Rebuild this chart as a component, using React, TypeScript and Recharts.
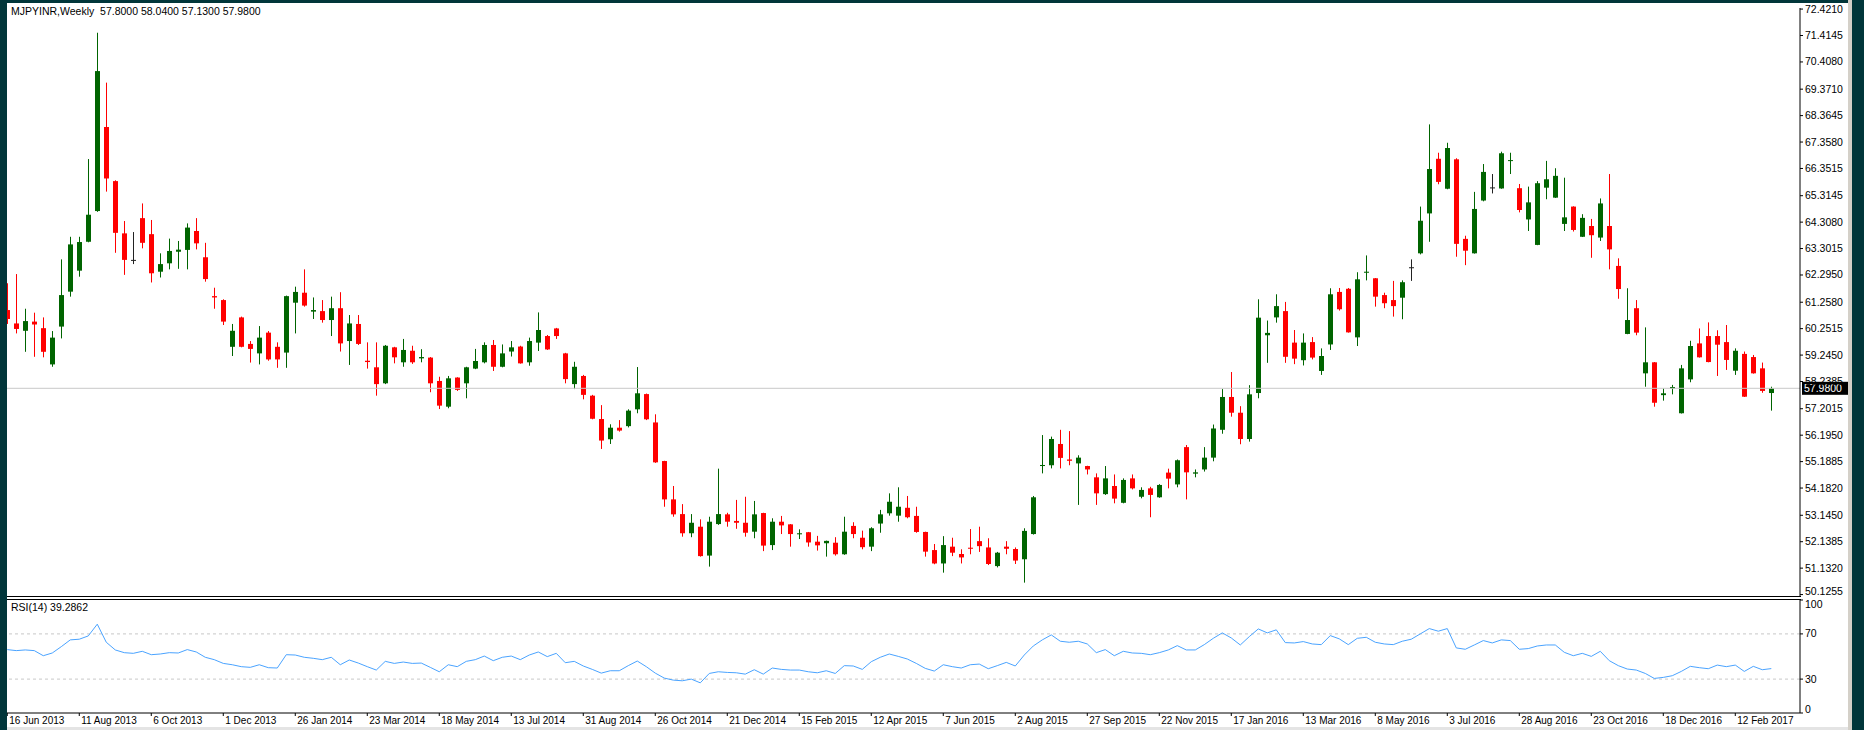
import React from "react";
import { ComposedChart, Bar, Line, XAxis, YAxis, ReferenceLine } from "recharts";

// weekly OHLC, oldest first
const opens = [
  60.96, 60.45, 60.17, 60.52, 60.27, 58.89, 60.33, 61.66, 62.46, 63.56,
  64.73, 67.93, 65.87, 63.88, 62.87, 64.46, 63.85, 62.42, 62.74, 63.18,
  63.25, 63.97, 62.97, 61.49, 61.34, 59.56, 60.68, 59.67, 59.31, 60.1,
  59.56, 59.34, 61.24, 61.62, 60.9, 60.92, 60.58, 61.03, 59.78, 60.43,
  59.03, 58.78, 58.17, 59.54, 58.97, 59.41, 59.12, 59.15, 58.26, 57.28,
  58.39, 58.17, 58.73, 58.97, 59.63, 58.8, 59.38, 59.57, 58.97, 59.72,
  59.97, 60.26, 59.31, 58.14, 58.45, 57.7, 56.81, 56.04, 56.48, 56.54,
  57.18, 57.76, 56.68, 55.21, 53.75, 53.19, 52.46, 52.71, 51.61, 52.81,
  53.18, 52.93, 52.86, 52.52, 53.23, 52.01, 52.9, 52.8, 52.42, 52.5,
  52.14, 52.08, 52.1, 51.66, 52.74, 52.29, 51.95, 52.83, 53.22, 53.13,
  53.43, 53.12, 52.51, 51.82, 51.31, 51.95, 51.67, 51.91, 52.16, 51.92,
  51.21, 51.95, 51.86, 51.47, 52.43, 55.02, 55.05, 55.86, 55.27, 55.12,
  55.02, 54.59, 53.95, 54.26, 53.62, 54.55, 53.85, 54.17, 53.83, 54.77,
  54.32, 55.74, 54.73, 54.89, 55.34, 56.4, 57.65, 57.05, 56.05, 57.8,
  60.0, 60.68, 60.92, 59.72, 59.05, 59.74, 58.64, 59.65, 61.65, 61.77,
  59.92, 62.38, 62.17, 61.53, 61.34, 61.43, 62.59, 63.12, 64.64, 66.72,
  65.58, 66.7, 63.67, 63.12, 65.13, 65.63, 65.59, 66.65, 65.6, 64.41,
  63.44, 65.62, 65.24, 64.24, 64.9, 63.75, 64.16, 63.72, 64.16, 62.64,
  60.05, 61.03, 58.55, 58.97, 57.72, 57.97, 57.03, 58.32, 59.69, 59.97,
  59.97, 59.74, 58.65, 59.29, 59.17, 58.74, 57.8,
];
const highs = [
  61.98, 62.33, 61.01, 60.86, 60.68, 60.16, 62.89, 63.75, 63.75, 66.71,
  71.52, 69.62, 65.9, 64.35, 63.93, 65.02, 64.39, 63.12, 63.68, 63.59,
  64.26, 64.46, 63.52, 61.81, 61.37, 60.43, 60.71, 59.78, 60.35, 60.16,
  59.73, 61.51, 61.85, 62.51, 61.44, 61.34, 61.47, 61.64, 60.77, 60.77,
  59.73, 59.73, 59.63, 59.56, 59.86, 59.6, 59.47, 59.17, 58.42, 58.45,
  58.4, 58.8, 59.48, 59.73, 59.82, 59.65, 59.78, 59.6, 59.91, 60.87,
  60.01, 60.28, 59.33, 58.99, 58.49, 57.73, 57.34, 56.61, 56.77, 57.18,
  58.79, 57.78, 56.99, 55.22, 54.26, 53.57, 53.19, 52.99, 53.09, 54.92,
  53.24, 53.73, 53.85, 53.69, 53.24, 53.03, 53.12, 52.81, 52.61, 52.51,
  52.36, 52.18, 52.31, 53.09, 52.88, 52.56, 52.69, 53.35, 53.98, 54.21,
  53.88, 53.47, 52.52, 52.05, 52.35, 52.29, 51.85, 52.62, 52.71, 52.27,
  51.75, 52.16, 51.92, 52.65, 53.88, 56.2, 56.14, 56.4, 56.35, 55.43,
  55.03, 54.74, 55.02, 54.7, 54.55, 54.7, 54.21, 54.23, 54.33, 54.92,
  55.27, 55.82, 54.89, 55.74, 56.6, 57.95, 58.6, 57.3, 58.1, 61.37,
  60.56, 61.56, 61.27, 60.2, 60.07, 59.93, 59.5, 61.79, 61.8, 61.8,
  62.4, 63.04, 62.18, 61.62, 62.07, 62.09, 62.89, 64.9, 68.03, 66.95,
  67.33, 66.74, 63.79, 65.46, 66.52, 66.14, 66.99, 66.95, 65.76, 65.66,
  65.87, 66.64, 66.36, 66.0, 64.91, 64.61, 64.43, 65.21, 66.14, 62.93,
  61.79, 61.34, 60.3, 58.98, 57.98, 58.11, 58.87, 59.79, 60.26, 60.49,
  60.19, 60.39, 59.5, 59.38, 59.25, 58.96, 58.04,
];
const lows = [
  60.43, 60.07, 59.37, 59.18, 59.16, 58.8, 59.88, 61.47, 62.23, 63.54,
  64.7, 65.47, 63.14, 62.3, 62.71, 63.31, 62.01, 62.2, 62.51, 62.53,
  62.51, 63.27, 62.04, 61.01, 60.39, 59.21, 59.54, 58.96, 58.89, 59.03,
  58.76, 58.76, 60.07, 61.09, 60.62, 60.48, 59.97, 59.38, 58.87, 59.63,
  58.73, 57.7, 58.14, 58.93, 58.8, 58.91, 58.97, 57.83, 57.19, 57.22,
  57.88, 57.6, 58.71, 58.93, 58.64, 58.78, 59.19, 58.92, 58.84, 59.4,
  59.44, 59.86, 58.17, 57.95, 57.56, 56.8, 55.67, 55.86, 56.33, 56.49,
  57.03, 56.77, 55.14, 53.47, 53.09, 52.33, 52.31, 51.57, 51.19, 52.78,
  52.71, 52.63, 52.33, 52.27, 51.78, 51.82, 52.43, 51.95, 52.24, 51.95,
  51.8, 51.57, 51.61, 51.64, 52.27, 51.85, 51.78, 52.48, 53.13, 52.9,
  53.03, 52.48, 51.57, 51.28, 50.96, 51.59, 51.31, 51.66, 51.75, 51.25,
  51.16, 51.66, 51.29, 50.58, 52.41, 54.74, 54.93, 54.93, 55.05, 53.54,
  54.7, 53.54, 53.92, 53.6, 53.6, 54.13, 53.79, 53.07, 53.81, 54.17,
  54.21, 53.75, 54.59, 54.81, 55.2, 56.25, 56.9, 55.85, 55.95, 57.6,
  58.95, 60.48, 58.95, 58.9, 58.85, 59.08, 58.49, 59.44, 60.94, 60.1,
  59.59, 62.09, 61.09, 61.03, 60.71, 60.61, 62.07, 63.08, 63.56, 65.75,
  65.56, 62.99, 62.67, 63.11, 65.1, 65.4, 65.58, 66.14, 64.68, 63.97,
  63.43, 65.18, 65.23, 63.97, 63.95, 63.74, 62.95, 63.59, 62.51, 61.39,
  60.04, 60.0, 58.04, 57.28, 57.51, 57.75, 57.02, 58.21, 59.15, 58.97,
  58.45, 58.68, 58.49, 57.65, 58.54, 57.81, 57.13,
];
const closes = [
  60.62, 60.24, 60.54, 60.41, 59.37, 59.91, 61.53, 63.46, 63.55, 64.59,
  70.06, 65.97, 63.9, 62.87, 62.87, 63.52, 62.36, 62.71, 63.21, 63.26,
  64.1, 63.5, 62.14, 61.44, 60.52, 60.17, 59.56, 59.48, 59.91, 59.08,
  59.08, 61.49, 61.65, 61.13, 60.96, 60.58, 61.03, 59.69, 60.45, 59.67,
  58.98, 58.14, 59.6, 59.16, 59.44, 58.97, 59.17, 58.17, 57.32, 58.36,
  57.92, 58.78, 59.02, 59.63, 58.8, 59.31, 59.54, 58.93, 59.78, 60.2,
  59.46, 59.97, 58.33, 58.8, 57.73, 56.82, 55.99, 56.48, 56.37, 57.13,
  57.79, 56.8, 55.16, 53.75, 53.18, 52.46, 52.86, 51.59, 52.9, 53.19,
  52.9, 52.86, 52.48, 53.18, 51.99, 52.9, 52.76, 52.43, 52.46, 52.11,
  52.0, 52.17, 51.66, 52.52, 52.43, 51.93, 52.65, 53.18, 53.66, 53.47,
  53.07, 52.51, 51.76, 51.31, 52.01, 51.72, 51.54, 51.87, 51.97, 51.29,
  51.72, 51.87, 51.42, 52.55, 53.83, 55.06, 56.05, 55.33, 55.22, 55.34,
  54.89, 53.98, 54.55, 53.78, 54.49, 54.17, 54.11, 53.92, 54.3, 54.54,
  55.24, 54.78, 54.78, 55.34, 56.45, 57.65, 57.05, 56.05, 57.75, 60.67,
  60.09, 61.11, 59.18, 59.11, 59.72, 59.15, 59.21, 61.56, 60.99, 60.11,
  62.13, 62.42, 61.47, 61.22, 61.11, 62.02, 62.59, 64.36, 66.33, 65.84,
  67.13, 63.48, 63.22, 64.81, 66.22, 65.63, 66.93, 66.67, 64.77, 65.06,
  65.79, 65.94, 66.07, 64.49, 64.01, 64.47, 63.81, 65.02, 63.27, 61.76,
  60.58, 60.1, 58.97, 57.43, 57.79, 58.03, 58.74, 59.59, 59.16, 58.98,
  59.64, 59.06, 59.41, 57.66, 58.55, 57.88, 57.98,
];
// RSI(14) as drawn in the lower panel
const rsiValues = [
  56.1, 55.2, 55.8, 55.2, 50.7, 53.1, 58.7, 64.7, 65.3, 68.2,
  78.6, 62.6, 55.8, 53.4, 52.8, 54.6, 51.6, 52.2, 53.4, 53.1,
  56.1, 54.0, 49.3, 47.2, 43.9, 42.7, 41.0, 40.4, 42.7, 40.1,
  39.8, 51.6, 51.3, 49.3, 48.4, 47.2, 49.3, 42.7, 46.9, 44.2,
  41.0, 38.0, 45.7, 43.9, 45.1, 43.9, 44.2, 40.4, 36.5, 42.7,
  41.0, 45.7, 47.2, 50.4, 46.3, 49.3, 50.4, 47.2, 51.3, 54.0,
  49.9, 52.8, 44.5, 45.7, 41.6, 38.6, 35.3, 37.4, 37.4, 41.9,
  46.0, 41.0, 35.3, 30.9, 29.1, 28.5, 30.0, 26.7, 35.0, 36.5,
  35.9, 35.6, 34.4, 38.3, 34.4, 39.8, 38.6, 38.0, 38.0, 36.5,
  35.6, 37.4, 35.0, 41.9, 41.6, 38.6, 45.4, 49.3, 52.2, 50.1,
  47.8, 43.9, 39.5, 37.1, 42.7, 41.0, 39.8, 42.7, 43.3, 39.2,
  41.9, 44.8, 41.6, 51.3, 59.3, 64.7, 69.1, 63.5, 62.6, 63.5,
  61.1, 53.4, 56.1, 50.7, 54.6, 53.1, 52.8, 51.6, 53.4, 55.8,
  59.6, 55.8, 55.8, 60.5, 66.1, 70.9, 66.4, 60.2, 67.6, 74.4,
  70.9, 73.6, 62.3, 62.0, 63.2, 61.1, 60.5, 68.5, 65.6, 60.5,
  66.1, 67.0, 62.6, 61.1, 60.5, 63.5, 65.3, 70.0, 74.7, 72.4,
  74.7, 57.6, 56.4, 60.2, 64.1, 62.0, 64.7, 64.1, 56.4, 57.0,
  59.3, 60.2, 60.2, 53.7, 50.7, 52.8, 50.1, 54.6, 46.3, 41.9,
  38.9, 38.0, 35.0, 30.6, 31.5, 33.0, 36.8, 41.3, 40.1, 39.2,
  42.4, 41.0, 42.4, 36.8, 41.3, 38.3, 39.3,
];

const dateTicks = [0, 8, 16, 24, 32, 40, 48, 56, 64, 72, 80, 88, 96, 104, 112, 120, 128, 136, 144, 152, 160, 168, 176, 184, 192];
const dateLabels = [
  "16 Jun 2013", "11 Aug 2013", "6 Oct 2013", "1 Dec 2013", "26 Jan 2014",
  "23 Mar 2014", "18 May 2014", "13 Jul 2014", "31 Aug 2014", "26 Oct 2014",
  "21 Dec 2014", "15 Feb 2015", "12 Apr 2015", "7 Jun 2015", "2 Aug 2015",
  "27 Sep 2015", "22 Nov 2015", "17 Jan 2016", "13 Mar 2016", "8 May 2016",
  "3 Jul 2016", "28 Aug 2016", "23 Oct 2016", "18 Dec 2016", "12 Feb 2017",
];
const priceTicks = [
  72.421, 71.4145, 70.408, 69.371, 68.3645, 67.358, 66.3515, 65.3145,
  64.308, 63.3015, 62.295, 61.258, 60.2515, 59.245, 58.2385, 57.2015,
  56.195, 55.1885, 54.182, 53.145, 52.1385, 51.132, 50.1255,
];
const rsiTicks = [0, 30, 70, 100];
const lastPrice = 57.98;

const FONT = "Tahoma, 'Liberation Sans', Arial, sans-serif";
const DARK = "#01363a";
const UP = "#006400";
const DOWN = "#ff0000";
const DOJI = "#222222";
const X_DOMAIN: [number, number] = [-0.03, 199.19];

const candles = opens.map((o, i) => ({
  i,
  open: o,
  high: highs[i],
  low: lows[i],
  close: closes[i],
  range: [lows[i], highs[i]],
  rsi: rsiValues[i],
}));

const Candle = (props: any) => {
  const { x, y, width, height, payload } = props;
  if (x == null || payload == null) return null;
  const { open, close, high, low } = payload;
  const top = Math.min(y, y + height);
  const span = Math.abs(height);
  const perUnit = high > low ? span / (high - low) : 0;
  const toY = (v: number) => top + (high - v) * perUnit;
  const cx = Math.round(x + width / 2);
  const color = close > open ? UP : close < open ? DOWN : DOJI;
  const bodyTop = toY(Math.max(open, close));
  const bodyBottom = toY(Math.min(open, close));
  return (
    <g>
      <line x1={cx + 0.5} x2={cx + 0.5} y1={top} y2={top + span} stroke={color} strokeWidth={1} />
      <rect x={cx - 2} y={bodyTop} width={5} height={Math.max(1, bodyBottom - bodyTop)} fill={color} />
    </g>
  );
};

const PriceTick = ({ x, y, payload }: any) => {
  // lowest label sits just above the panel border, like MT4 does
  const shift = payload.value === priceTicks[priceTicks.length - 1] ? -3 : 0;
  return (
    <text x={x} y={y + shift} dy={3.5} fontSize={10.5} fontFamily={FONT} fill="#000" textAnchor="start">
      {Number(payload.value).toFixed(4)}
    </text>
  );
};

const RsiTick = ({ x, y, payload }: any) => {
  const shift = payload.value === 100 ? 4 : payload.value === 0 ? -4 : 0;
  return (
    <text x={x} y={y + shift} dy={3.5} fontSize={10.5} fontFamily={FONT} fill="#000" textAnchor="start">
      {payload.value}
    </text>
  );
};

const DateTick = ({ x, y, payload }: any) => (
  <text x={x + 2} y={y} dy={8} fontSize={10} fontFamily={FONT} fill="#000" textAnchor="start">
    {dateLabels[dateTicks.indexOf(payload.value)]}
  </text>
);

const PriceTag = ({ viewBox }: any) => {
  if (!viewBox) return null;
  const left = viewBox.x + viewBox.width + 2;
  return (
    <g>
      <rect x={left} y={viewBox.y - 6.5} width={46} height={13} fill="#000" />
      <text x={left + 2} y={viewBox.y} dy={3.5} fontSize={10.5} fontFamily={FONT} fill="#fff">
        {lastPrice.toFixed(4)}
      </text>
    </g>
  );
};

const box = (left: number, top: number, width: number, height: number, bg: string): React.CSSProperties => ({
  position: "absolute",
  left,
  top,
  width,
  height,
  background: bg,
});

export default function App() {
  return (
    <div style={{ position: "absolute", left: 0, top: 0, width: 1864, height: 730, background: "#fff", overflow: "hidden", fontFamily: FONT }}>
      {/* price panel */}
      <div style={{ position: "absolute", left: 0, top: 0 }}>
        <ComposedChart width={1864} height={598} data={candles} margin={{ top: 8, right: 16, bottom: 2, left: 7 }}>
          <XAxis type="number" dataKey="i" domain={X_DOMAIN} hide allowDataOverflow />
          <YAxis
            orientation="right"
            domain={[50.071, 72.462]}
            allowDataOverflow
            ticks={priceTicks}
            interval={0}
            width={48}
            tickSize={3}
            tickMargin={2}
            tick={<PriceTick />}
            axisLine={{ stroke: "#000" }}
            tickLine={{ stroke: "#000" }}
          />
          <ReferenceLine y={lastPrice} stroke="#c8c8c8" label={<PriceTag />} />
          <Bar dataKey="range" shape={<Candle />} barSize={7} isAnimationActive={false} />
        </ComposedChart>
      </div>

      {/* RSI panel */}
      <div style={{ position: "absolute", left: 0, top: 598 }}>
        <ComposedChart width={1864} height={132} data={candles} margin={{ top: 2, right: 16, bottom: 0, left: 7 }}>
          <XAxis
            type="number"
            dataKey="i"
            domain={X_DOMAIN}
            allowDataOverflow
            ticks={dateTicks}
            interval={0}
            height={17}
            tickSize={3}
            tickMargin={0}
            tick={<DateTick />}
            axisLine={{ stroke: "#000" }}
            tickLine={{ stroke: "#000" }}
          />
          <YAxis
            orientation="right"
            domain={[0, 100]}
            ticks={rsiTicks}
            interval={0}
            width={48}
            tickSize={3}
            tickMargin={2}
            tick={<RsiTick />}
            axisLine={{ stroke: "#000" }}
            tickLine={{ stroke: "#000" }}
          />
          <ReferenceLine y={70} stroke="#c8c8c8" strokeDasharray="3 3" />
          <ReferenceLine y={30} stroke="#c8c8c8" strokeDasharray="3 3" />
          <Line dataKey="rsi" stroke="#4aa3ff" strokeWidth={1} dot={false} isAnimationActive={false} />
        </ComposedChart>
      </div>

      {/* panel borders and window frame */}
      <div style={box(7, 596, 1794, 1, "#000")} />
      <div style={box(7, 599, 1794, 1, "#000")} />
      <div style={box(0, 0, 1864, 3, DARK)} />
      <div style={box(0, 0, 7, 730, DARK)} />
      <div style={box(1848, 0, 4, 730, "#d4d0c8")} />
      <div style={box(1852, 0, 12, 730, DARK)} />
      <div style={box(7, 727, 1841, 3, "#e4e4e4")} />

      <div style={{ position: "absolute", left: 11, top: 5, fontSize: 10.5, lineHeight: "12px", whiteSpace: "pre", color: "#000" }}>
        {"MJPYINR,Weekly  57.8000 58.0400 57.1300 57.9800"}
      </div>
      <div style={{ position: "absolute", left: 11, top: 601, fontSize: 10.5, lineHeight: "12px", whiteSpace: "pre", color: "#000" }}>
        {"RSI(14) 39.2862"}
      </div>
    </div>
  );
}
